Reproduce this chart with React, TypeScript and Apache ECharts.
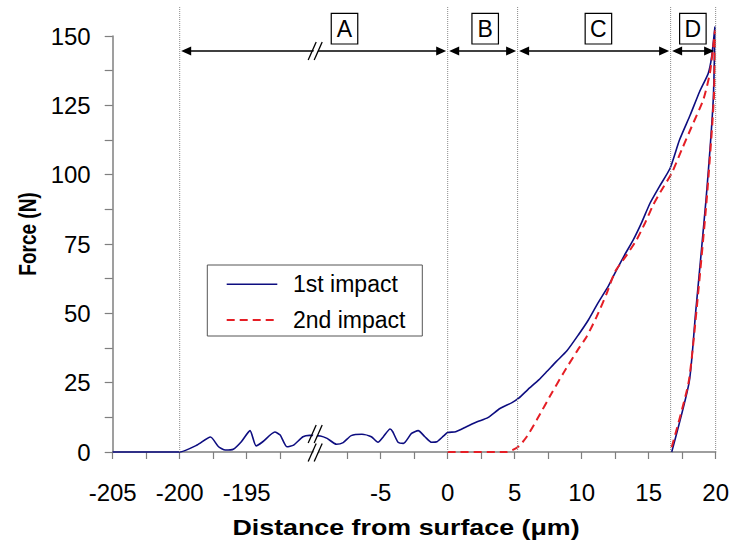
import React, { useEffect, useRef } from "react";
import * as echarts from "echarts";

const FONT = "'Liberation Sans', Arial, Helvetica, sans-serif";

// Distance from surface (µm) and force (N), 1st impact (loading + unloading)
const firstX = [
  -205, -200, -198.7, -197.7, -197.1, -196.6, -196.0, -195.4, -194.75, -194.3, -193.8, -192.9, -192.5, -192.0,
  -191.5, -190.8, -190.3,
  -9.5, -9.0, -8.3, -7.8, -7.2, -6.4, -5.7, -5.2, -4.8, -4.3, -4.1, -3.7, -3.3, -2.7, -2.2, -1.7, -1.2, -0.8,
  -0.3, 0, 0.6, 1.4, 2.2, 3.0, 3.9, 4.8, 5.3, 6.0, 6.8, 7.4, 8.1, 8.9, 9.75, 10.5, 11.2, 12.0, 12.6, 13.2,
  13.85, 14.5, 15.1, 15.8, 16.6, 17.3, 18.1, 18.8, 19.45, 19.7, 19.95,
  19.82, 19.28, 18.5, 18.03, 16.72,
];
const firstF = [
  0, 0, 2.5, 5.4, 1.9, 0.7, 1.0, 3.7, 7.7, 2.2, 3.7, 7.2, 6.1, 1.9,
  2.5, 5.5, 6.0,
  5.8, 4.9, 2.8, 3.4, 5.9, 6.4, 5.5, 3.5, 5.5, 8.3, 7.3, 3.5, 3.1, 6.7, 7.7, 5.5, 3.5, 3.7,
  5.8, 7.0, 7.3, 9.1, 10.9, 12.4, 15.7, 17.8, 19.4, 22.6, 26.0, 29.0, 32.6, 36.5, 42.2, 47.6, 53.6, 59.9, 65.6, 71.0,
  76.5, 83.0, 89.7, 95.7, 102.3, 112.5, 121.5, 129.9, 136.6, 142.5, 153.4,
  127, 90.9, 50, 25.4, 0,
];

// 2nd impact (loading + unloading)
const secondX = [
  0, 4.4, 5.27, 5.9, 6.64, 7.76, 8.63, 9.63, 10.37, 11.12, 11.87, 12.49, 13.36, 14.1, 14.72, 15.34, 15.97,
  16.72, 17.46, 18.21, 19.07, 19.57, 19.9, 19.95, 19.86, 19.33, 18.55, 17.97, 16.62,
];
const secondF = [
  0, 0, 1.9, 5.5, 11.5, 21.2, 28.4, 36.2, 41.6, 48.8, 57.2, 65.0, 71.0, 76.5, 82.5, 89.1, 94.5,
  100.5, 108.9, 117.3, 126.9, 136.6, 149.8, 152, 127, 90.9, 50, 24.8, 0,
];

const seriesNames = ["1st impact", "2nd impact"];
const seriesColors = ["#0d0d80", "#e51e25"];
const xLabelValues = [-205, -200, -195, -5, 0, 5, 10, 15, 20];
const xTickValues = [
  -205, -202.5, -200, -197.5, -195, -192.5, -7.5, -5, -2.5, 0, 2.5, 5, 7.5, 10, 12.5, 15, 17.5, 20,
];
const zoneBounds = [-200, 0, 5.22, 16.64, 20];
const zoneNames = ["A", "B", "C", "D"];
const zoneLabelX = [-7.7, 2.8, 11.25, 18.3];

// axis break: [-190, -10] is cut out
const BREAK_LOW = -190;
const BREAK_HIGH = -10;
const AXIS_START = -205;
const toAxis = (x: number) => (x <= BREAK_LOW ? x - AXIS_START : x - BREAK_HIGH + (BREAK_LOW - AXIS_START));
const fromAxis = (d: number) =>
  d <= BREAK_LOW - AXIS_START ? d + AXIS_START : d + BREAK_HIGH - (BREAK_LOW - AXIS_START);

const ARROW_F = 144.6;
const DOTTED_TOP_F = 160.5;
const CURVE_BREAK_F = 6.7;

export default function App() {
  const ref = useRef<HTMLDivElement>(null);

  useEffect(() => {
    if (!ref.current) return;
    const chart = echarts.init(ref.current, undefined, { renderer: "svg" });
    const axisColor = "#7f7f7f";

    const option: any = {
      animation: false,
      backgroundColor: "#ffffff",
      grid: { left: 112.7, right: 16.3, top: 36, bottom: 95, containLabel: false },
      xAxis: {
        type: "value",
        min: 0,
        max: toAxis(20),
        interval: 2.5,
        axisLine: { show: true, onZero: false, lineStyle: { color: axisColor, width: 1.5 } },
        axisTick: {
          show: true,
          length: 7,
          customValues: xTickValues.map(toAxis),
          lineStyle: { color: axisColor, width: 1.2 },
        },
        axisLabel: {
          customValues: xLabelValues.map(toAxis),
          formatter: (v: number) => String(Math.round(fromAxis(v) * 10) / 10),
          fontFamily: FONT,
          fontSize: 24,
          color: "#000",
          margin: 28,
        },
        splitLine: { show: false },
      },
      yAxis: {
        type: "value",
        min: 0,
        max: 150,
        interval: 12.5,
        axisLine: { show: true, lineStyle: { color: axisColor, width: 1.5 } },
        axisTick: { show: true, length: 8, lineStyle: { color: axisColor, width: 1.2 } },
        axisLabel: {
          formatter: (v: number) => (v % 25 === 0 ? String(v) : ""),
          fontFamily: FONT,
          fontSize: 24,
          color: "#000",
          margin: 22,
        },
        splitLine: { show: false },
      },
      series: [
        {
          name: seriesNames[0],
          type: "line",
          data: firstX.map((x, i) => [toAxis(x), firstF[i]]),
          symbol: "none",
          smooth: 0.2,
          clip: false,
          lineStyle: { color: seriesColors[0], width: 1.6 },
          itemStyle: { color: seriesColors[0] },
          z: 3,
        },
        {
          name: seriesNames[1],
          type: "line",
          data: secondX.map((x, i) => [toAxis(x), secondF[i]]),
          symbol: "none",
          smooth: 0.2,
          clip: false,
          lineStyle: { color: seriesColors[1], width: 2, type: [8, 5] },
          itemStyle: { color: seriesColors[1] },
          z: 4,
        },
      ],
    };
    chart.setOption(option);

    const px = (x: number, f: number) =>
      chart.convertToPixel({ gridIndex: 0 }, [toAxis(x), f]) as unknown as number[];

    const g: any[] = [];
    const Z = 100;
    // dotted vertical zone boundaries
    zoneBounds.forEach((b) => {
      const p0 = px(b, 0);
      const p1 = px(b, DOTTED_TOP_F);
      g.push({
        type: "line",
        z: Z,
        shape: { x1: p0[0], y1: p0[1], x2: p1[0], y2: p1[1] },
        style: { stroke: "#8a8a8a", lineWidth: 1, lineDash: [1, 1] },
      });
    });
    // double arrows
    const ay = px(0, ARROW_F)[1];
    const head = 10;
    const hw = 4.5;
    for (let i = 0; i < zoneNames.length; i++) {
      const xa = px(zoneBounds[i], 0)[0] + 1.5;
      const xb = px(zoneBounds[i + 1], 0)[0] - 1.5;
      g.push({
        type: "line",
        z: Z,
        shape: { x1: xa + head - 1, y1: ay, x2: xb - head + 1, y2: ay },
        style: { stroke: "#000", lineWidth: 1.6 },
      });
      g.push({
        type: "polygon",
        z: Z,
        shape: { points: [[xa, ay], [xa + head, ay - hw], [xa + head, ay + hw]] },
        style: { fill: "#000" },
      });
      g.push({
        type: "polygon",
        z: Z,
        shape: { points: [[xb, ay], [xb - head, ay - hw], [xb - head, ay + hw]] },
        style: { fill: "#000" },
      });
      const cx = px(zoneLabelX[i], 0)[0];
      g.push({
        type: "rect",
        z: Z,
        shape: { x: cx - 13.25, y: 13.3, width: 26.5, height: 30.7 },
        style: { fill: "#fff", stroke: "#000", lineWidth: 1.2 },
      });
      g.push({
        type: "text",
        z: Z + 1,
        x: cx,
        y: 29,
        style: {
          text: zoneNames[i],
          fontFamily: FONT,
          fontSize: 23,
          fill: "#000",
          align: "center",
          verticalAlign: "middle",
        },
      });
    }
    // break marks "//"
    const bx = px(BREAK_HIGH, 0)[0] + 2;
    const breakMark = (cy: number) => {
      const hh = 9;
      g.push({
        type: "polygon",
        z: Z,
        shape: { points: [[bx - 6, cy + hh], [bx + 2, cy - hh], [bx + 6, cy - hh], [bx - 2, cy + hh]] },
        style: { fill: "#fff" },
      });
      g.push({
        type: "line",
        z: Z + 1,
        shape: { x1: bx - 7.5, y1: cy + hh, x2: bx + 0.5, y2: cy - hh },
        style: { stroke: "#000", lineWidth: 1.3 },
      });
      g.push({
        type: "line",
        z: Z + 1,
        shape: { x1: bx - 1.5, y1: cy + hh, x2: bx + 6.5, y2: cy - hh },
        style: { stroke: "#000", lineWidth: 1.3 },
      });
    };
    breakMark(ay);
    breakMark(px(BREAK_HIGH, 0)[1] + 0.5);
    breakMark(px(BREAK_HIGH, CURVE_BREAK_F)[1] + 0.5);

    // legend (drawn by hand so the samples are plain line segments)
    const LX = 207.3;
    const LY = 265;
    g.push({
      type: "rect",
      z: Z,
      shape: { x: LX, y: LY, width: 215, height: 71 },
      style: { fill: "#fff", stroke: "#555", lineWidth: 1 },
    });
    seriesNames.forEach((name, i) => {
      const yy = LY + 19.3 + i * 35.7;
      g.push({
        type: "line",
        z: Z + 1,
        shape: { x1: LX + 19.4, y1: yy, x2: LX + 70, y2: yy },
        style: {
          stroke: seriesColors[i],
          lineWidth: i === 0 ? 1.6 : 2,
          lineDash: i === 0 ? null : [8, 5],
        },
      });
      g.push({
        type: "text",
        z: Z + 1,
        x: LX + 85.7,
        y: yy,
        style: {
          text: name,
          fontFamily: FONT,
          fontSize: 23,
          fill: "#000",
          align: "left",
          verticalAlign: "middle",
        },
      });
    });

    // axis titles (stretched horizontally like the original)
    const gl = px(0, 0);
    g.push({
      type: "text",
      z: Z,
      x: 406,
      y: gl[1] + 75,
      scaleX: 1.22,
      style: {
        text: "Distance from surface (μm)",
        fontFamily: FONT,
        fontWeight: "bold",
        fontSize: 22,
        fill: "#000",
        align: "center",
        verticalAlign: "middle",
      },
    });
    g.push({
      type: "text",
      z: Z,
      x: 27.5,
      y: 234,
      rotation: Math.PI / 2,
      scaleY: 1.22,
      style: {
        text: "Force (N)",
        fontFamily: FONT,
        fontWeight: "bold",
        fontSize: 19,
        fill: "#000",
        align: "center",
        verticalAlign: "middle",
      },
    });
    chart.setOption({ graphic: g });

    return () => chart.dispose();
  }, []);

  return (
    <div
      ref={ref}
      style={{ position: "absolute", left: 0, top: 0, width: 732, height: 547 }}
    />
  );
}
